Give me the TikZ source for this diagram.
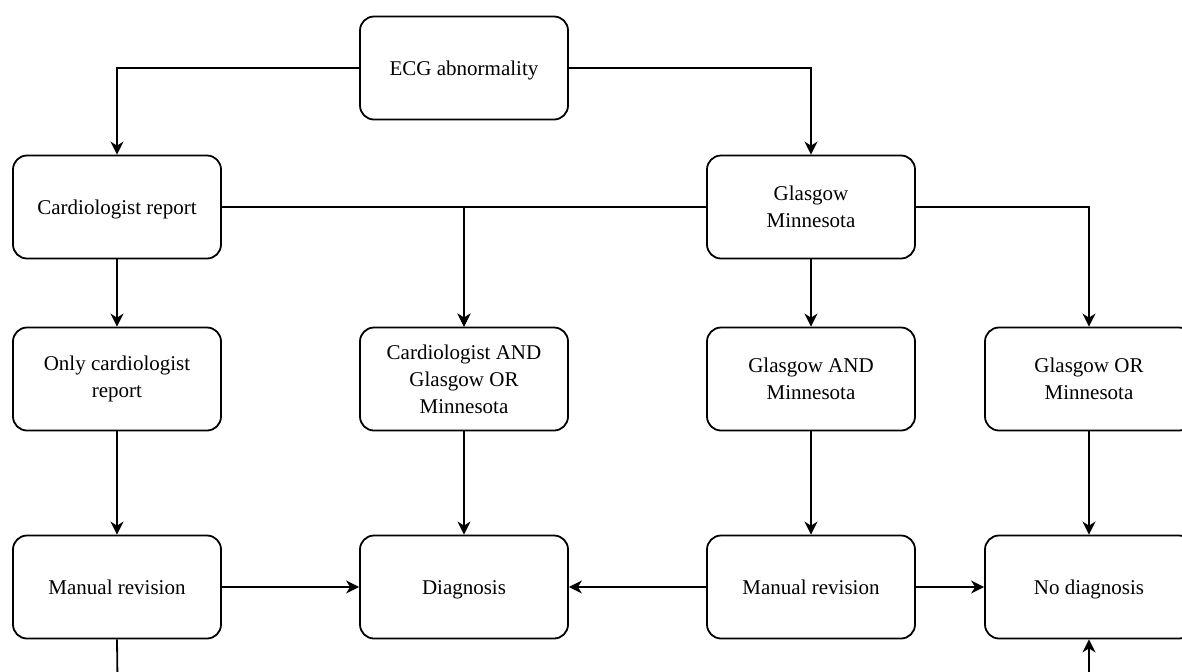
\documentclass[tikz,border=0pt]{standalone}
\usepackage{fontspec}
\setmainfont{Liberation Serif}
\usetikzlibrary{arrows.meta}
\begin{document}
\begin{tikzpicture}[x=0.5pt,y=-0.5pt,
 box/.style={draw, rounded corners=7pt, line width=0.9pt, minimum width=104pt, minimum height=51.5pt, align=center, font=\fontsize{10.5}{13.5}\selectfont, inner sep=0pt},
 one/.style={text height=9pt, text depth=1.2pt},
 conn/.style={line width=0.9pt, -{Stealth[length=6.5pt,width=6.5pt,inset=2pt]}}]
\useasboundingbox (0,0) rectangle (1182,671);
\clip (0,0) rectangle (1182,671);
\node[box,one] (ecg) at (464,68) {ECG abnormality};
\node[box,one] (card) at (117,207) {Cardiologist report};
\node[box] (glas) at (811,207) {Glasgow\\Minnesota};
\node[box] (only) at (117,379) {Only cardiologist\\report};
\node[box] (cand) at (464,379) {Cardiologist AND\\Glasgow OR\\Minnesota};
\node[box] (gand) at (811,379) {Glasgow AND\\Minnesota};
\node[box] (gor) at (1089,379) {Glasgow OR\\Minnesota};
\node[box,one] (mr1) at (117,587) {Manual revision};
\node[box,one] (diag) at (464,587) {Diagnosis};
\node[box,one] (mr2) at (811,587) {Manual revision};
\node[box,one] (nod) at (1089,587) {No diagnosis};
\draw[conn] (ecg.west) -| (card.north);
\draw[conn] (ecg.east) -| (glas.north);
\draw[conn] (card.east) -| (cand.north);
\draw[conn] (glas.west) -| (cand.north);
\draw[conn] (card) -- (only);
\draw[conn] (glas) -- (gand);
\draw[conn] (glas.east) -| (gor.north);
\draw[conn] (only) -- (mr1);
\draw[conn] (cand) -- (diag);
\draw[conn] (gand) -- (mr2);
\draw[conn] (gor) -- (nod);
\draw[conn] (mr1) -- (diag);
\draw[conn] (mr2) -- (diag);
\draw[conn] (mr2) -- (nod);
\coordinate (below) at (118,720);
\draw[conn] (mr1.south) -- (below) -| (nod.south);
\end{tikzpicture}
\end{document}
